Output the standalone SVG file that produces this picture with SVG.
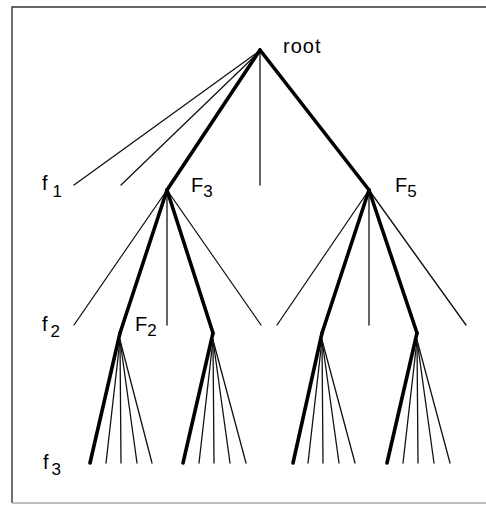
<svg xmlns="http://www.w3.org/2000/svg" width="486" height="505" viewBox="0 0 486 505">
<style>
.thin{stroke:#111;stroke-width:1.3;fill:none;stroke-linecap:round}
.thick{stroke:#000;stroke-width:3.6;fill:none;stroke-linecap:round;stroke-linejoin:round}
.lbl{font-family:"Liberation Sans",Arial,sans-serif;font-size:20px;fill:#000}
.sub{font-size:17px}
.frame{stroke:#333;stroke-width:1.4;fill:none}
</style>
<rect width="486" height="505" fill="#fff"/>
<g id="frame">
<path class="frame" d="M12,503 L12,7 L486,7"/>
<path d="M12,503 L486,503" stroke="#aaa" stroke-width="1.4"/>
</g>
<g id="connectors">
<line class="thin" x1="258" y1="52" x2="74" y2="185"/>
<line class="thin" x1="258" y1="53" x2="121" y2="185"/>
<line class="thin" x1="260" y1="50" x2="260" y2="185"/>
<line class="thick" x1="260" y1="50" x2="167" y2="190"/>
<line class="thick" x1="260" y1="50" x2="369" y2="190"/>
<line class="thin" x1="167" y1="190" x2="74" y2="325"/>
<line class="thin" x1="167" y1="190" x2="167" y2="325"/>
<line class="thin" x1="167" y1="190" x2="261" y2="325"/>
<line class="thick" x1="167" y1="190" x2="120" y2="333"/>
<line class="thick" x1="167" y1="190" x2="213" y2="333"/>
<line class="thin" x1="369" y1="190" x2="277" y2="325"/>
<line class="thin" x1="369" y1="190" x2="369" y2="325"/>
<line class="thin" x1="369" y1="190" x2="466" y2="325"/>
<line class="thick" x1="369" y1="190" x2="322" y2="333"/>
<line class="thick" x1="369" y1="190" x2="417" y2="333"/>
<line class="thick" x1="120" y1="333" x2="90" y2="463"/>
<line class="thin" x1="120" y1="340" x2="106" y2="463"/>
<line class="thin" x1="120" y1="340" x2="121" y2="463"/>
<line class="thin" x1="120" y1="340" x2="137" y2="463"/>
<line class="thin" x1="120" y1="340" x2="152" y2="463"/>
<line class="thick" x1="213" y1="333" x2="183" y2="463"/>
<line class="thin" x1="213" y1="340" x2="199" y2="463"/>
<line class="thin" x1="213" y1="340" x2="214" y2="463"/>
<line class="thin" x1="213" y1="340" x2="230" y2="463"/>
<line class="thin" x1="213" y1="340" x2="246" y2="463"/>
<line class="thick" x1="322" y1="333" x2="293" y2="463"/>
<line class="thin" x1="322" y1="340" x2="308" y2="463"/>
<line class="thin" x1="322" y1="340" x2="323" y2="463"/>
<line class="thin" x1="322" y1="340" x2="339" y2="463"/>
<line class="thin" x1="322" y1="340" x2="355" y2="463"/>
<line class="thick" x1="417" y1="333" x2="387" y2="463"/>
<line class="thin" x1="417" y1="340" x2="403" y2="463"/>
<line class="thin" x1="417" y1="340" x2="418" y2="463"/>
<line class="thin" x1="417" y1="340" x2="434" y2="463"/>
<line class="thin" x1="417" y1="340" x2="450" y2="463"/>
</g>
<g id="node-root"><text class="lbl" x="283" y="53" font-size="21" letter-spacing="1">root</text></g>
<g id="node-F3"><text class="lbl" x="191" y="192">F<tspan class="sub" dy="5">3</tspan></text></g>
<g id="node-F5"><text class="lbl" x="395" y="192">F<tspan class="sub" dy="5">5</tspan></text></g>
<g id="node-F2"><text class="lbl" x="135" y="331">F<tspan class="sub" dy="5">2</tspan></text></g>
<g id="level-f1"><text class="lbl" x="42" y="190">f<tspan class="sub" dx="5" dy="7">1</tspan></text></g>
<g id="level-f2"><text class="lbl" x="42" y="331">f<tspan class="sub" dx="3" dy="6">2</tspan></text></g>
<g id="level-f3"><text class="lbl" x="43" y="469">f<tspan class="sub" dx="3" dy="6">3</tspan></text></g>
</svg>
